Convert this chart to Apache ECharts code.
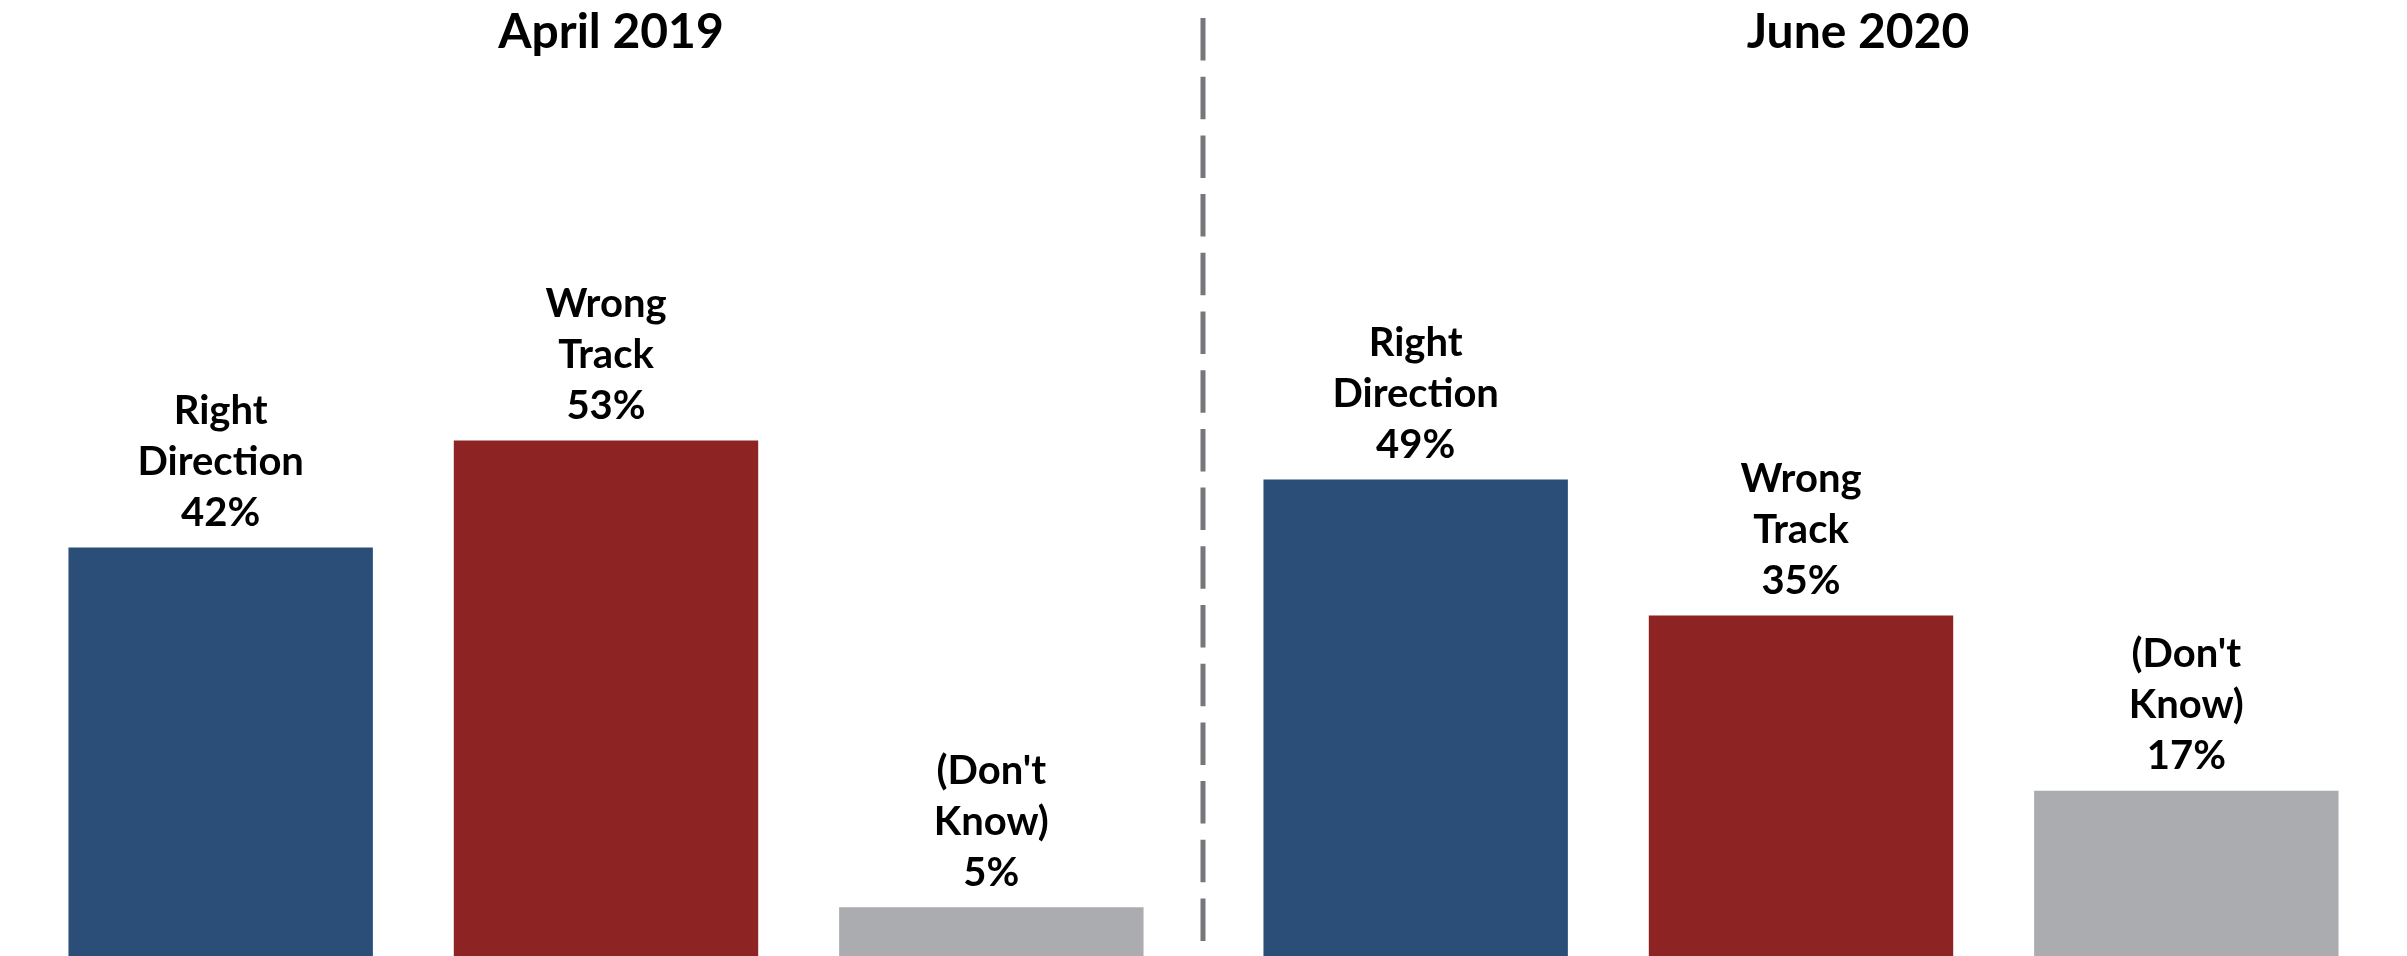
<!DOCTYPE html>
<html>
<head>
<meta charset="utf-8">
<script src="https://cdn.jsdelivr.net/npm/echarts@6/dist/echarts.min.js"></script>
<style>
  html, body { margin: 0; padding: 0; background: #ffffff; }
  #chart { width: 2407px; height: 956px; }
</style>
</head>
<body>
<div id="chart"></div>
<script>
// ---- data ----
const panelTitles = ["April 2019", "June 2020"];
const categories = ["Right\nDirection", "Wrong\nTrack", "(Don't\nKnow)"];
const april2019 = [42, 53, 5];
const june2020 = [49, 35, 17];
const barColors = ["#2a4e77", "#8e2323", "#abacaf"];

const FONT = "Lato, 'Open Sans', sans-serif";

function makeData(values) {
  return values.map((v, i) => ({ value: v, itemStyle: { color: barColors[i] } }));
}

const labelStyle = {
  show: true,
  position: 'top',
  distance: 9,
  color: '#000000',
  fontFamily: FONT,
  fontWeight: 'bold',
  fontSize: 40,
  lineHeight: 51,
  align: 'center',
  formatter: p => p.name + '\n' + p.value + '%'
};

const chart = echarts.init(document.getElementById('chart'), null, { renderer: 'canvas' });

chart.setOption({
  backgroundColor: '#ffffff',
  animation: false,
  title: [
    { text: panelTitles[0], left: 606, top: 4, textAlign: 'center',
      textStyle: { fontFamily: FONT, fontWeight: 'bold', fontSize: 48, color: '#000' } },
    { text: panelTitles[1], left: 1853, top: 4, textAlign: 'center',
      textStyle: { fontFamily: FONT, fontWeight: 'bold', fontSize: 48, color: '#000' } }
  ],
  grid: [
    { left: 28, width: 1156, top: 0, bottom: -3 },
    { left: 1223, width: 1156, top: 0, bottom: -3 }
  ],
  xAxis: [
    { type: 'category', gridIndex: 0, data: categories, show: false },
    { type: 'category', gridIndex: 1, data: categories, show: false }
  ],
  yAxis: [
    { type: 'value', gridIndex: 0, min: 0, max: 98.3, show: false, splitLine: { show: false } },
    { type: 'value', gridIndex: 1, min: 0, max: 98.3, show: false, splitLine: { show: false } }
  ],
  series: [
    { type: 'bar', name: panelTitles[0], xAxisIndex: 0, yAxisIndex: 0,
      data: makeData(april2019), barCategoryGap: '21%', label: labelStyle },
    { type: 'bar', name: panelTitles[1], xAxisIndex: 1, yAxisIndex: 1,
      data: makeData(june2020), barCategoryGap: '21%', label: labelStyle }
  ],
  graphic: [
    { type: 'line', shape: { x1: 1203, y1: 18, x2: 1203, y2: 956 },
      style: { stroke: '#77777b', lineWidth: 5, lineDash: [42.5, 16.2] } }
  ]
});
</script>
</body>
</html>
